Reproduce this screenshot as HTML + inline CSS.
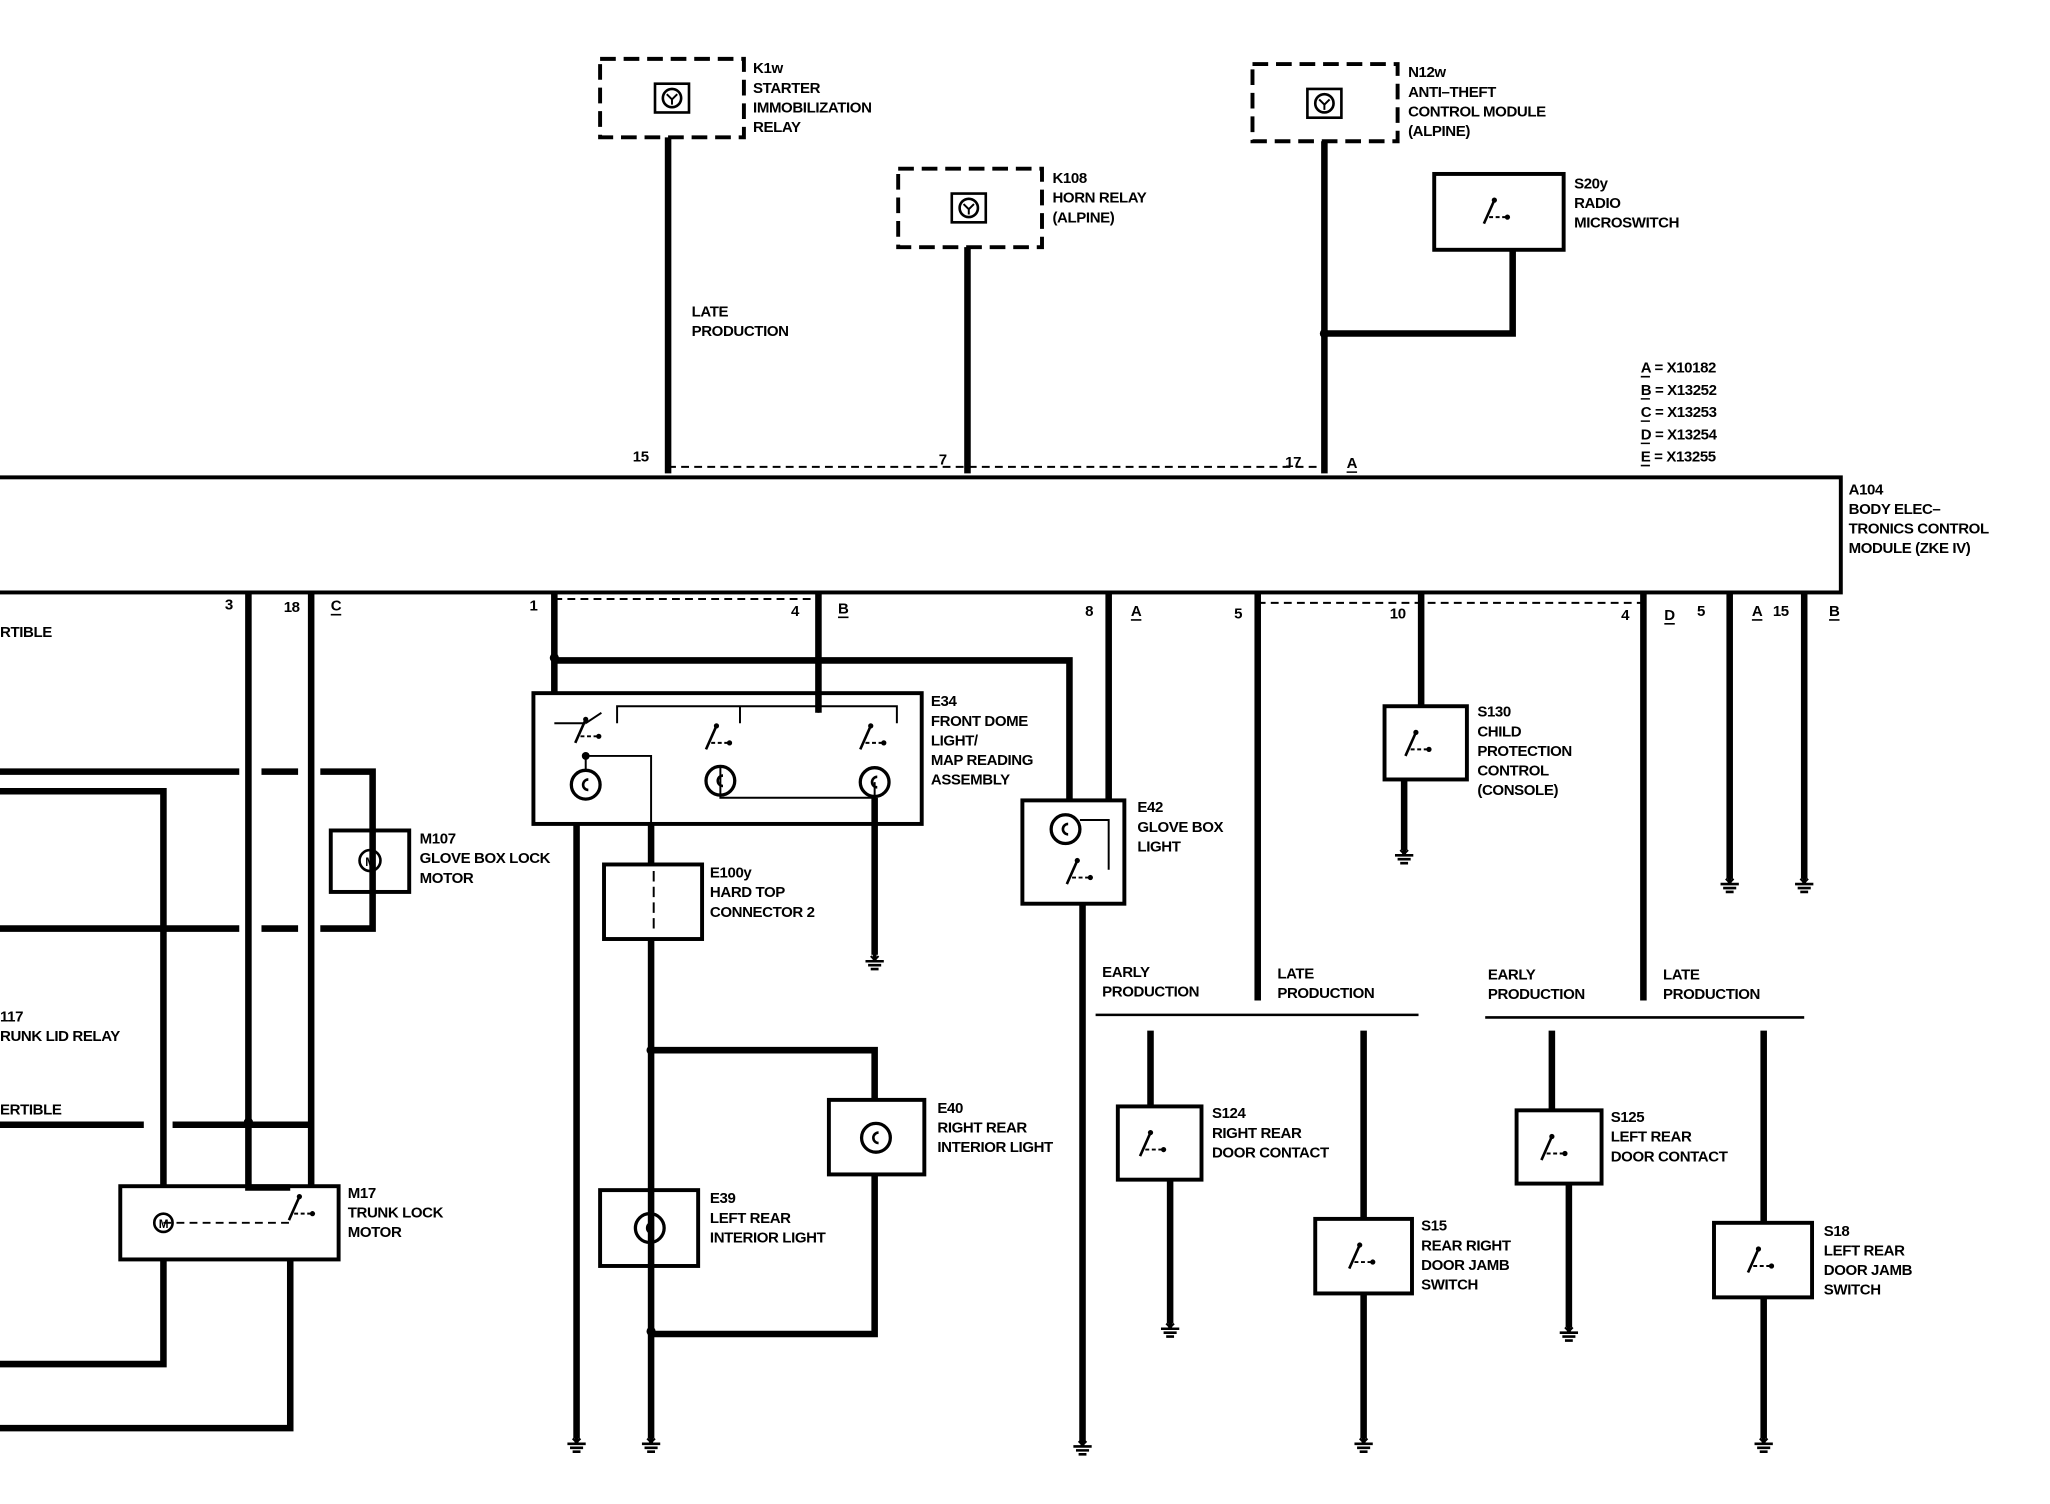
<!DOCTYPE html>
<html><head><meta charset="utf-8"><style>
html,body{margin:0;padding:0;background:#fff;}
svg{display:block}
text{font-family:"Liberation Sans",sans-serif;font-weight:bold;font-size:11.5px;fill:#000;letter-spacing:-0.3px}
</style></head><body>
<svg width="2050" height="1504" viewBox="0 0 1568 1150" preserveAspectRatio="none" xmlns="http://www.w3.org/2000/svg">
<defs>
<g id="gnd"><path d="M0 -8 L0 0" stroke="#000" stroke-width="3"/><path d="M-7 0 H7 M-5 3 H5 M-3 6 H3" stroke="#000" stroke-width="2"/><path d="M-3 -4 L0 -1 L3 -4" fill="none" stroke="#000" stroke-width="1.5"/></g>
<g id="lamp"><circle r="11" fill="none" stroke="#000" stroke-width="2.5"/><path d="M2 -4 A4 4 0 1 0 2 4" fill="none" stroke="#000" stroke-width="2"/></g>
<g id="sw"><circle cx="0" cy="-10" r="2" fill="#000"/><path d="M0 -10 L-8 8" stroke="#000" stroke-width="2"/><path d="M-4 3 H10" stroke="#000" stroke-width="1.5" stroke-dasharray="3 2"/><circle cx="10" cy="3" r="2" fill="#000"/></g>
<g id="relay"><rect x="-13" y="-11" width="26" height="22" fill="none" stroke="#000" stroke-width="2"/><circle r="7" fill="none" stroke="#000" stroke-width="2"/><path d="M-4 -3 L0 1 L4 -3 M0 1 V5" stroke="#000" stroke-width="1.5" fill="none"/></g>
</defs>
<g fill="none" stroke="#000">
<rect x="-5" y="365" width="1413" height="88" stroke-width="3"/>
<rect x="459" y="45" width="110" height="60" stroke-width="3" stroke-dasharray="12 6"/>
<rect x="687" y="129" width="110" height="60" stroke-width="3" stroke-dasharray="12 6"/>
<rect x="958" y="49" width="111" height="59" stroke-width="3" stroke-dasharray="12 6"/>
<rect x="1097" y="133" width="99" height="58" stroke-width="3"/>
<g stroke-width="5">
<path d="M511 105 V362 M740 189 V362 M1013 108 V362 M1013 255 H1157 V191"/>
<path d="M190 453 V908 H222 M238 453 V908 M424 453 V530 M626 453 V545 M424 505 H818 V612 M848 453 V612 M962 453 V765 M1087 453 V540 M1257 453 V765 M1323 453 V672 M1380 453 V672"/>
<path d="M-5 590 H183 M200 590 H228 M245 590 H285 V710 H245 M228 710 H200 M183 710 H-5"/>
<path d="M-5 605 H125 V908 M125 963 V1043 H-5 M222 963 V1092 H-5"/>
<path d="M-5 860 H110 M132 860 H238"/>
<path d="M441 630 V1100 M669 610 V730 M498 630 V661 M498 718 V1100 M498 803 H669 V841 M669 898 V1020 H498 M828 691 V1103"/>
<path d="M1074 596 V650 M880 788 V846 M895 902 V1012 M1043 788 V932 M1043 989 V1100 M1187 788 V849 M1200 905 V1015 M1349 788 V935 M1349 992 V1100"/>
</g>
<path d="M511 357 H1013 M424 458 H626 M962 461 H1257" stroke-width="1.5" stroke-dasharray="6 4"/>
<path d="M838 776 H1085 M1136 778 H1380" stroke-width="2"/>
<path d="M1255 288 h7 M1255 305 h7 M1255 322 h7 M1255 339 h7 M1255 356 h7 M1030 361 h8 M253 470 h8 M641 472 h8 M865 474 h8 M1273 477 h8 M1340 474 h8 M1399 474 h8" stroke-width="1.2"/>
<g stroke-width="3">
<rect x="253" y="635" width="60" height="47"/>
<rect x="408" y="530" width="297" height="100"/>
<rect x="462" y="661" width="75" height="57"/>
<rect x="634" y="841" width="73" height="57"/>
<rect x="459" y="910" width="75" height="58"/>
<rect x="782" y="612" width="78" height="79"/>
<rect x="1059" y="540" width="63" height="56"/>
<rect x="855" y="846" width="64" height="56"/>
<rect x="1006" y="932" width="74" height="57"/>
<rect x="1160" y="849" width="65" height="56"/>
<rect x="1311" y="935" width="75" height="57"/>
<rect x="92" y="907" width="167" height="56"/>
</g>
<path d="M500 666 V714" stroke-width="1.5" stroke-dasharray="8 4"/>
<path d="M472 553 V540 H686 V553 M448 578 H498 V630 M448 578 V588 M551 587 V610 H669 V598 M566 540 V553 M626 545 V540" stroke-width="1.5"/>
<path d="M424 553 H448 M448 553 L460 545" stroke-width="1.5"/>
<path d="M826 627 H848 V665" stroke-width="1.5"/>
<path d="M125 935 H222" stroke-width="1.5" stroke-dasharray="6 4"/>
<circle cx="125" cy="935" r="7" stroke-width="2"/>
<circle cx="283" cy="658" r="8" stroke-width="2"/>
</g>
<text x="283" y="662" text-anchor="middle" style="font-size:9px">M</text>
<text x="125" y="939" text-anchor="middle" style="font-size:9px">M</text>
<g fill="#000">
<circle cx="1013" cy="255" r="3.5"/><circle cx="424" cy="503" r="3.5"/><circle cx="190" cy="858" r="3.5"/>
<circle cx="498" cy="803" r="3.5"/><circle cx="498" cy="1018" r="3.5"/><circle cx="448" cy="578" r="3"/>
</g>
<use href="#relay" x="514" y="75"/><use href="#relay" x="741" y="159"/><use href="#relay" x="1013" y="79"/>
<use href="#sw" x="1143" y="163"/><use href="#sw" x="1083" y="570"/><use href="#sw" x="880" y="876"/>
<use href="#sw" x="1040" y="962"/><use href="#sw" x="1187" y="879"/><use href="#sw" x="1345" y="965"/>
<use href="#sw" x="824" y="668"/><use href="#sw" x="229" y="925"/>
<use href="#sw" x="448" y="560"/><use href="#sw" x="548" y="565"/><use href="#sw" x="666" y="565"/>
<use href="#lamp" x="448" y="600"/><use href="#lamp" x="551" y="597"/><use href="#lamp" x="669" y="598"/>
<use href="#lamp" x="815" y="634"/><use href="#lamp" x="670" y="870"/><use href="#lamp" x="497" y="939"/>
<use href="#gnd" x="441" y="1104"/><use href="#gnd" x="498" y="1104"/><use href="#gnd" x="828" y="1106"/>
<use href="#gnd" x="669" y="735"/><use href="#gnd" x="1074" y="654"/><use href="#gnd" x="1323" y="676"/>
<use href="#gnd" x="1380" y="676"/><use href="#gnd" x="895" y="1016"/><use href="#gnd" x="1043" y="1104"/>
<use href="#gnd" x="1200" y="1019"/><use href="#gnd" x="1349" y="1104"/>
<text x="576" y="56">K1w</text><text x="576" y="71">STARTER</text><text x="576" y="86">IMMOBILIZATION</text><text x="576" y="101">RELAY</text>
<text x="805" y="140">K108</text><text x="805" y="155">HORN RELAY</text><text x="805" y="170">(ALPINE)</text>
<text x="1077" y="59">N12w</text><text x="1077" y="74">ANTI–THEFT</text><text x="1077" y="89">CONTROL MODULE</text><text x="1077" y="104">(ALPINE)</text>
<text x="1204" y="144">S20y</text><text x="1204" y="159">RADIO</text><text x="1204" y="174">MICROSWITCH</text>
<text x="529" y="242">LATE</text><text x="529" y="257">PRODUCTION</text>
<text x="1255" y="285">A =  X10182</text><text x="1255" y="302">B =  X13252</text><text x="1255" y="319">C =  X13253</text><text x="1255" y="336">D =  X13254</text><text x="1255" y="353">E =  X13255</text>
<text x="484" y="353">15</text><text x="718" y="355">7</text><text x="983" y="357">17</text><text x="1030" y="358">A</text>
<text x="1414" y="378">A104</text><text x="1414" y="393">BODY ELEC–</text><text x="1414" y="408">TRONICS CONTROL</text><text x="1414" y="423">MODULE (ZKE IV)</text>
<text x="172" y="466">3</text><text x="217" y="468">18</text><text x="253" y="467">C</text>
<text x="405" y="467">1</text><text x="605" y="471">4</text><text x="641" y="469">B</text>
<text x="830" y="471">8</text><text x="865" y="471">A</text>
<text x="944" y="473">5</text><text x="1063" y="473">10</text><text x="1240" y="474">4</text><text x="1273" y="474">D</text>
<text x="1298" y="471">5</text><text x="1340" y="471">A</text><text x="1356" y="471">15</text><text x="1399" y="471">B</text>
<text x="0" y="487">RTIBLE</text><text x="0" y="781">117</text><text x="0" y="796">RUNK LID RELAY</text><text x="0" y="852">ERTIBLE</text>
<text x="321" y="645">M107</text><text x="321" y="660">GLOVE BOX LOCK</text><text x="321" y="675">MOTOR</text>
<text x="266" y="916">M17</text><text x="266" y="931">TRUNK LOCK</text><text x="266" y="946">MOTOR</text>
<text x="712" y="540">E34</text><text x="712" y="555">FRONT DOME</text><text x="712" y="570">LIGHT/</text><text x="712" y="585">MAP READING</text><text x="712" y="600">ASSEMBLY</text>
<text x="543" y="671">E100y</text><text x="543" y="686">HARD TOP</text><text x="543" y="701">CONNECTOR 2</text>
<text x="717" y="851">E40</text><text x="717" y="866">RIGHT REAR</text><text x="717" y="881">INTERIOR LIGHT</text>
<text x="543" y="920">E39</text><text x="543" y="935">LEFT REAR</text><text x="543" y="950">INTERIOR LIGHT</text>
<text x="870" y="621">E42</text><text x="870" y="636">GLOVE BOX</text><text x="870" y="651">LIGHT</text>
<text x="1130" y="548">S130</text><text x="1130" y="563">CHILD</text><text x="1130" y="578">PROTECTION</text><text x="1130" y="593">CONTROL</text><text x="1130" y="608">(CONSOLE)</text>
<text x="843" y="747">EARLY</text><text x="843" y="762">PRODUCTION</text><text x="977" y="748">LATE</text><text x="977" y="763">PRODUCTION</text>
<text x="1138" y="749">EARLY</text><text x="1138" y="764">PRODUCTION</text><text x="1272" y="749">LATE</text><text x="1272" y="764">PRODUCTION</text>
<text x="927" y="855">S124</text><text x="927" y="870">RIGHT REAR</text><text x="927" y="885">DOOR CONTACT</text>
<text x="1087" y="941">S15</text><text x="1087" y="956">REAR RIGHT</text><text x="1087" y="971">DOOR JAMB</text><text x="1087" y="986">SWITCH</text>
<text x="1232" y="858">S125</text><text x="1232" y="873">LEFT REAR</text><text x="1232" y="888">DOOR CONTACT</text>
<text x="1395" y="945">S18</text><text x="1395" y="960">LEFT REAR</text><text x="1395" y="975">DOOR JAMB</text><text x="1395" y="990">SWITCH</text>
</svg>
</body></html>
